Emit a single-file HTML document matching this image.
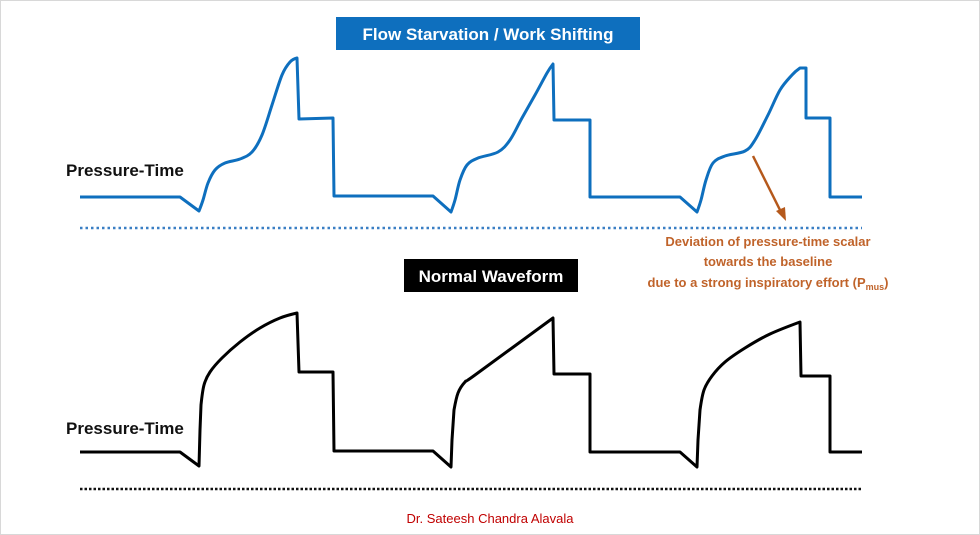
<!DOCTYPE html>
<html><head><meta charset="utf-8"><style>
body{margin:0;background:#fff;}
svg{display:block;font-family:"Liberation Sans",sans-serif;}
</style></head><body>
<svg width="980" height="535" viewBox="0 0 980 535">
<rect x="0.5" y="0.5" width="979" height="534" fill="#fff" stroke="#d8d8d8"/>
<rect x="336" y="17" width="304" height="33" fill="#0e6fbe"/>
<text x="488" y="40" text-anchor="middle" fill="#fff" font-weight="bold" font-size="17">Flow Starvation / Work Shifting</text>
<rect x="404" y="259" width="174" height="33" fill="#000"/>
<text x="491" y="282" text-anchor="middle" fill="#fff" font-weight="bold" font-size="17">Normal Waveform</text>
<text x="66" y="176" font-weight="bold" font-size="17" fill="#111">Pressure-Time</text>
<text x="66" y="434" font-weight="bold" font-size="17" fill="#111">Pressure-Time</text>
<line x1="80" y1="228" x2="862" y2="228" stroke="#3a7fc4" stroke-width="2.5" stroke-dasharray="2.5 3"/>
<line x1="80" y1="489" x2="862" y2="489" stroke="#111" stroke-width="2.5" stroke-dasharray="2.5 2"/>
<g id="series"></g>
<line x1="753" y1="156" x2="781" y2="212" stroke="#b5591c" stroke-width="2.5"/>
<polygon points="786,221 776,211 785,207" fill="#b5591c"/>
<g font-weight="bold" font-size="13" fill="#c0632a" text-anchor="middle">
<text x="768" y="246">Deviation of pressure-time scalar</text>
<text x="768" y="266">towards the baseline</text>
<text x="768" y="287">due to a strong inspiratory effort (P<tspan font-size="9" dy="3">mus</tspan><tspan dy="-3">)</tspan></text>
</g>
<text x="490" y="523" text-anchor="middle" font-size="13" fill="#c00000">Dr. Sateesh Chandra Alavala</text>
</svg>
<script>
const topTime=[0,100,119,123,128,135,145,160,172,182,192,202,210,217,219,253,254,353,371,375,380,387,398,418,430,442,455,467,473,474,510,510,600,617,621,626,633,645,665,675,688,700,712,720,726,726,750,750,782];
const topPressure=[0,0,-14,-3,14,27,34,38,45,62,92,122,135,139,78,79,1,1,-15,-3,17,32,39,45,57,79,102,124,133,77,77,0,0,-15,-3,17,34,41,46,57,82,107,122,129,129,79,79,0,0];
const botTime=[0,100,119,120,121,124,130,142,160,180,200,217,219,253,254,353,371,372,374,378,385,395,473,474,510,510,600,617,618,620,624,632,645,665,690,720,721,750,750,782];
const botPressure=[0,0,-14,22,47,67,80,94,110,124,134,139,80,80,1,1,-15,12,42,59,70,77,134,78,78,0,0,-15,12,42,62,76,90,104,118,130,76,76,0,0];
const x=t=>80+t;
const yTop=p=>197-p;
const yBot=p=>452-p;
function draw(times,vals,ys,color,name){
  const P=times.map((t,i)=>[x(t),ys(vals[i])]);
  const n=P.length;
  // corner detection: flat or vertical neighbouring segment, or local extremum
  const corner=P.map((p,i)=>{
    if(i===0||i===n-1) return true;
    const a=P[i-1],b=P[i+1];
    const seg=(u,v)=>Math.abs(v[0]-u[0])<=2||Math.abs(v[1]-u[1])<=1.5;
    if(seg(a,p)||seg(p,b)) return true;
    if((p[1]-a[1])*(b[1]-p[1])<0) return true;
    return false;
  });
  let d='M'+P[0][0]+','+P[0][1];
  for(let i=0;i<n-1;i++){
    const p0=P[Math.max(0,i-1)],p1=P[i],p2=P[i+1],p3=P[Math.min(n-1,i+2)];
    let t1=corner[i]?[0,0]:[(p2[0]-p0[0])/6,(p2[1]-p0[1])/6];
    let t2=corner[i+1]?[0,0]:[(p3[0]-p1[0])/6,(p3[1]-p1[1])/6];
    d+='C'+(p1[0]+t1[0]).toFixed(1)+','+(p1[1]+t1[1]).toFixed(1)+' '+(p2[0]-t2[0]).toFixed(1)+','+(p2[1]-t2[1]).toFixed(1)+' '+p2[0]+','+p2[1];
  }
  const p=document.createElementNS('http://www.w3.org/2000/svg','path');
  p.setAttribute('d',d);
  p.setAttribute('fill','none');
  p.setAttribute('stroke',color);
  p.setAttribute('stroke-width','3');
  p.setAttribute('stroke-linejoin','round');
  
  
  document.getElementById('series').appendChild(p);
}
draw(topTime,topPressure,yTop,'#0e6fbe','flow-starvation-waveform');
draw(botTime,botPressure,yBot,'#000','normal-waveform');
</script>
</body></html>
